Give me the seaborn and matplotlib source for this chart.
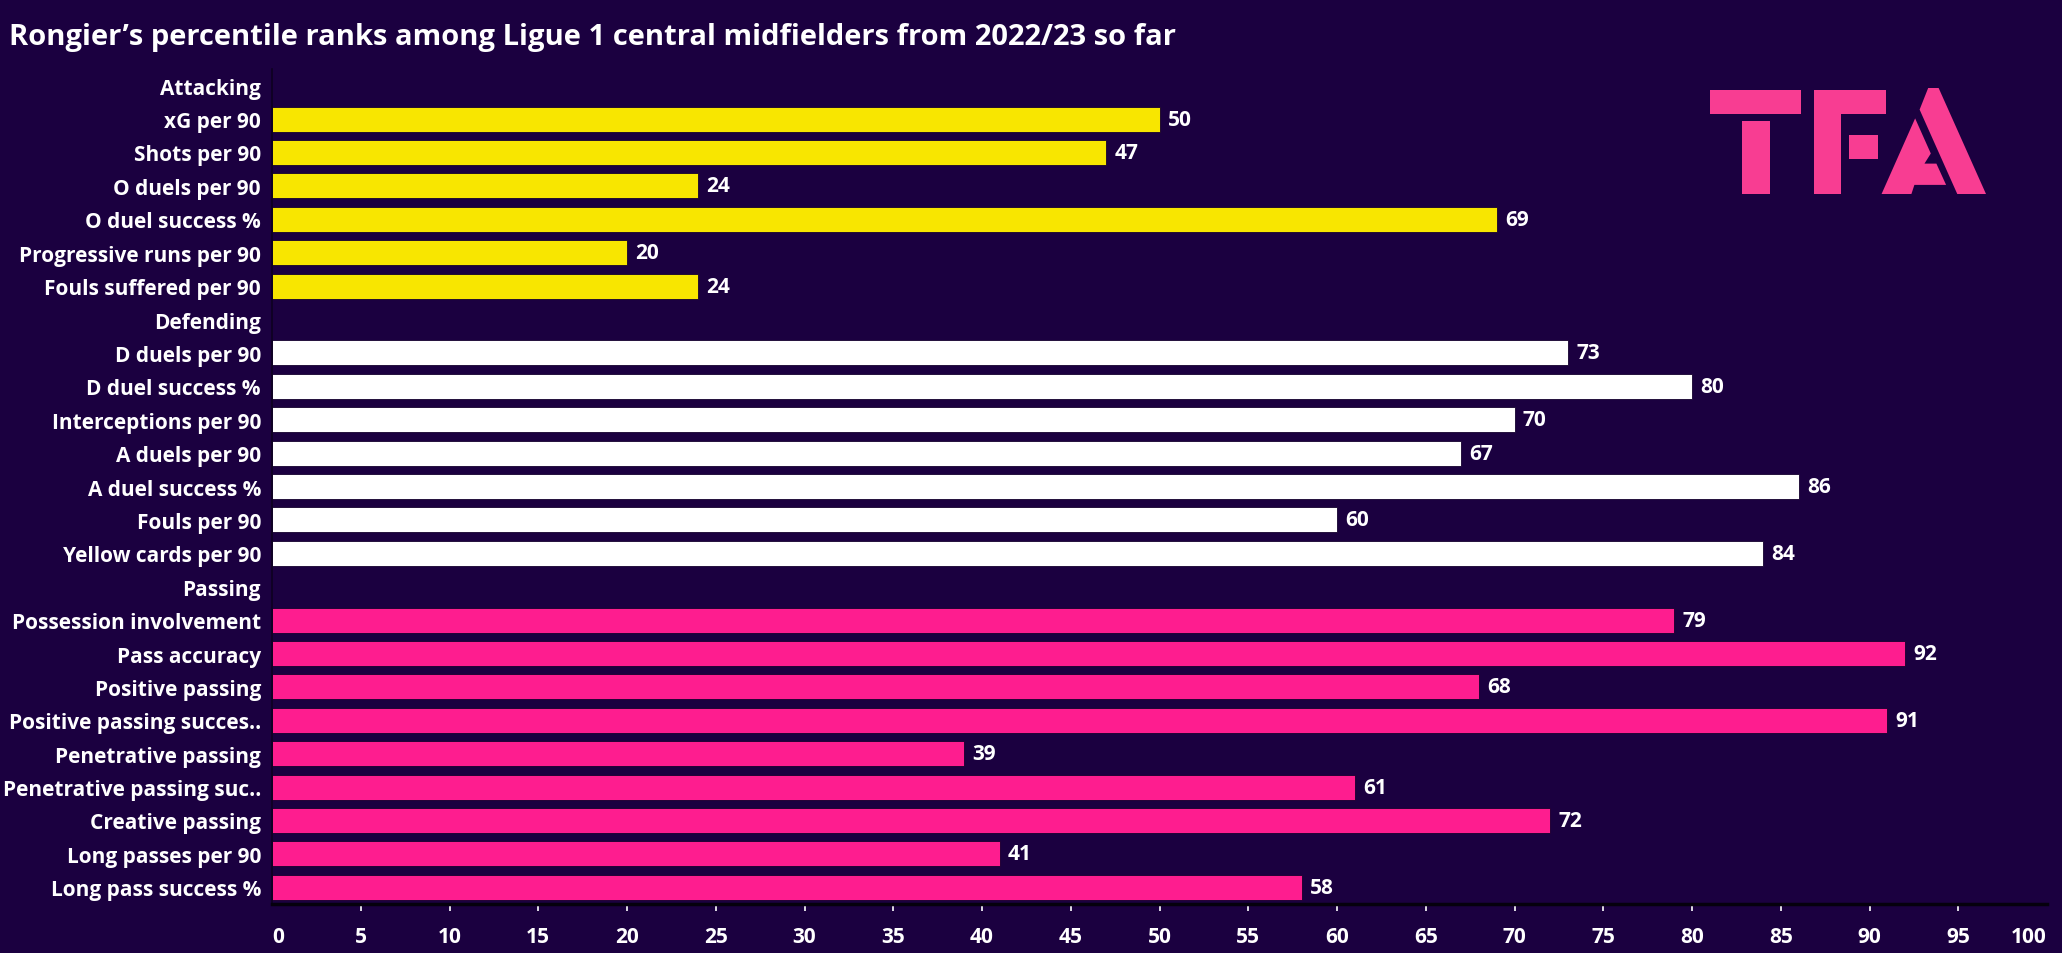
import numpy as np
import pandas as pd
import matplotlib
matplotlib.use("Agg")
import matplotlib.pyplot as plt
import seaborn as sns
from matplotlib.patches import Polygon

# data
attacking_labels = ["xG per 90", "Shots per 90", "O duels per 90", "O duel success %",
                    "Progressive runs per 90", "Fouls suffered per 90"]
attacking_values = [50, 47, 24, 69, 20, 24]

defending_labels = ["D duels per 90", "D duel success %", "Interceptions per 90",
                    "A duels per 90", "A duel success %", "Fouls per 90", "Yellow cards per 90"]
defending_values = [73, 80, 70, 67, 86, 60, 84]

passing_labels = ["Possession involvement", "Pass accuracy", "Positive passing",
                  "Positive passing succes..", "Penetrative passing", "Penetrative passing suc..",
                  "Creative passing", "Long passes per 90", "Long pass success %"]
passing_values = [79, 92, 68, 91, 39, 61, 72, 41, 58]

x_ticks = list(range(0, 101, 5))

TITLE = "Rongier\u2019s percentile ranks among Ligue 1 central midfielders from 2022/23 so far"

BG = "#1b0040"
COLORS = {"Attacking": "#f8e600", "Defending": "#ffffff", "Passing": "#fe1d8f"}
LOGO = "#f83d92"


def build_frame():
    rows = []
    for group, labels, values in [("Attacking", attacking_labels, attacking_values),
                                  ("Defending", defending_labels, defending_values),
                                  ("Passing", passing_labels, passing_values)]:
        rows.append({"metric": group, "value": np.nan, "group": group})
        for lab, val in zip(labels, values):
            rows.append({"metric": lab, "value": val, "group": group})
    return pd.DataFrame(rows)


def draw_logo(fig):
    # TFA block logo, shapes in a local pixel grid
    lax = fig.add_axes([1710 / 2062, 1 - 195 / 954, 276 / 2062, 106 / 954])
    lax.set_xlim(615, 1355)
    lax.set_ylim(402, 88)
    lax.axis("off")
    shapes = [
        [(615, 95), (860, 95), (860, 165), (615, 165)],
        [(700, 185), (775, 185), (775, 402), (700, 402)],
        [(893, 95), (1087, 95), (1087, 165), (967, 165), (967, 402), (893, 402)],
        [(987, 226), (1065, 226), (1065, 297), (987, 297)],
        [(1177, 152), (1200, 88), (1228, 88), (1355, 402), (1278, 402)],
        [(1075, 402), (1165, 178), (1207, 282), (1190, 312), (1222, 312),
         (1248, 375), (1163, 375), (1155, 402)],
    ]
    for pts in shapes:
        lax.add_patch(Polygon(pts, closed=True, facecolor=LOGO, edgecolor="none"))


def main():
    df = build_frame()
    order = list(df["metric"])

    sns.set_theme(style="dark")
    plt.rcParams["font.family"] = ["Open Sans", "DejaVu Sans"]
    plt.rcParams["font.weight"] = "bold"

    fig = plt.figure(figsize=(20.62, 9.54), dpi=100, facecolor=BG)
    ax = fig.add_axes([272 / 2062, 49 / 954, 1775 / 2062, 835 / 954])
    ax.set_facecolor(BG)

    sns.barplot(data=df, x="value", y="metric", hue="group", order=order,
                palette=COLORS, saturation=1, dodge=False, width=0.75, orient="h",
                legend=False, ax=ax, edgecolor="#14002e", linewidth=0.6)

    for cont in ax.containers:
        ax.bar_label(cont, fmt="%d", padding=6, color="white",
                     fontsize=15, fontweight="bold")

    ax.set_xlim(0, 100)
    ax.set_xticks(x_ticks)
    ax.set_xticklabels([str(t) for t in x_ticks])
    ax.set_xlabel("")
    ax.set_ylabel("")
    ax.grid(False)

    ax.tick_params(axis="x", colors="white", labelsize=15, length=5, width=1.2,
                   direction="out", pad=11, bottom=True)
    ax.tick_params(axis="y", colors="white", labelsize=15, length=0, pad=8)
    for lab in ax.get_xticklabels() + ax.get_yticklabels():
        lab.set_fontweight("bold")
        lab.set_color("white")
    xl = ax.get_xticklabels()
    xl[0].set_horizontalalignment("left")
    xl[-1].set_horizontalalignment("right")
    ticks = ax.xaxis.get_major_ticks()
    ticks[0].tick1line.set_visible(False)
    ticks[-1].tick1line.set_visible(False)

    for side in ["top", "right"]:
        ax.spines[side].set_visible(False)
    ax.spines["bottom"].set_color("#05000d")
    ax.spines["bottom"].set_linewidth(2.5)
    ax.spines["left"].set_color("#0d0020")
    ax.spines["left"].set_linewidth(1.2)

    fig.text(9 / 2062, 1 - 37 / 954, TITLE, color="white", fontsize=21,
             fontweight="bold", va="center", ha="left")

    draw_logo(fig)

    fig.savefig("out.png", dpi=100, facecolor=BG)
    plt.close(fig)


if __name__ == "__main__":
    main()
